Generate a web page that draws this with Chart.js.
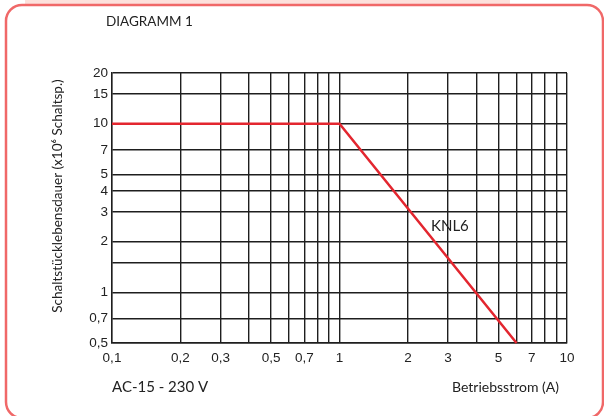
<!DOCTYPE html>
<html>
<head>
<meta charset="utf-8">
<script src="https://cdn.jsdelivr.net/npm/chart.js@4.4.1/dist/chart.umd.min.js"></script>
<style>
  html, body { margin: 0; padding: 0; background: #fff; }
  #wrap { width: 604px; height: 416px; }
</style>
</head>
<body>
<div id="wrap"><canvas id="c" width="604" height="416"></canvas></div>
<script>
// Kurve KNL6
const stromA = [0.1, 1, 6];
const lebensdauer = [10, 10, 0.5];

// Gitter / Beschriftung
const xTicks = [0.1, 0.2, 0.3, 0.4, 0.5, 0.6, 0.7, 0.8, 0.9, 1, 2, 3, 4, 5, 6, 7, 8, 9, 10];
const xLabels = [0.1, 0.2, 0.3, 0.5, 0.7, 1, 2, 3, 5, 7, 10];
const yTicks = [0.5, 0.7, 1, 1.5, 2, 3, 4, 5, 7, 10, 15, 20];
const yLabels = [0.5, 0.7, 1, 2, 3, 4, 5, 7, 10, 15, 20];

const fmt = v => String(v).replace('.', ',');
const has = (arr, v) => arr.some(a => Math.abs(a - v) < 1e-9);

const rahmen = {
    id: 'rahmen',
    beforeDraw(chart) {
        const ctx = chart.ctx;
        ctx.save();
        ctx.fillStyle = '#fff';
        ctx.fillRect(0, 0, 604, 416);
        ctx.fillStyle = '#fde1dc';
        ctx.fillRect(25, 0, 485, 5);
        ctx.strokeStyle = '#f06868';
        ctx.lineWidth = 2.5;
        ctx.beginPath();
        ctx.roundRect(6, 5, 597, 413, 16);
        ctx.stroke();
        ctx.restore();
    },
    afterDraw(chart) {
        const ctx = chart.ctx;
        ctx.save();
        ctx.fillStyle = '#222';
        ctx.textBaseline = 'middle';
        ctx.textAlign = 'left';
        ctx.font = '13.5px Lato';
        ctx.fillText('DIAGRAMM 1', 106, 22);
        ctx.font = '15px Lato';
        ctx.fillText('AC-15 - 230 V', 112, 387);
        ctx.textAlign = 'right';
        ctx.font = '14px Lato';
        ctx.fillText('Betriebsstrom (A)', 559, 387);
        ctx.textAlign = 'left';
        ctx.font = '15px Lato';
        ctx.fillText('KNL6', 431, 226);
        // y-Achsentitel
        ctx.translate(58, 196);
        ctx.rotate(-Math.PI / 2);
        ctx.textAlign = 'center';
        ctx.font = '13.5px Lato';
        ctx.fillText('Schaltstücklebensdauer (x10\u2076 Schaltsp.)', 0, 0);
        ctx.restore();
    }
};

new Chart(document.getElementById('c'), {
    type: 'line',
    data: {
        datasets: [{
            label: 'KNL6',
            data: stromA.map((x, i) => ({x: x, y: lebensdauer[i]})),
            borderColor: '#e3262f',
            borderWidth: 2.5,
            pointRadius: 0,
            tension: 0,
            clip: false
        }]
    },
    options: {
        responsive: false,
        animation: false,
        layout: {padding: {top: 73, right: 37, left: 0, bottom: 0}},
        plugins: {legend: {display: false}, tooltip: {enabled: false}},
        scales: {
            x: {
                type: 'logarithmic',
                min: 0.1, max: 10,
                afterBuildTicks: s => { s.ticks = xTicks.map(v => ({value: v})); },
                afterFit: s => { s.height = 73; },
                ticks: {
                    autoSkip: false, maxRotation: 0, padding: 7,
                    color: '#222', font: {family: 'Liberation Sans', size: 13.5},
                    callback: v => has(xLabels, v) ? fmt(v) : ''
                },
                grid: {color: '#1e1e1e', lineWidth: 1.4, drawTicks: false},
                border: {color: '#1e1e1e', width: 1.4}
            },
            y: {
                type: 'logarithmic',
                min: 0.5, max: 20,
                afterBuildTicks: s => { s.ticks = yTicks.map(v => ({value: v})); },
                afterFit: s => { s.width = 112; },
                ticks: {
                    autoSkip: false, padding: 4,
                    color: '#222', font: {family: 'Liberation Sans', size: 13.5},
                    callback: v => has(yLabels, v) ? fmt(v) : ''
                },
                grid: {color: '#1e1e1e', lineWidth: 1.4, drawTicks: false},
                border: {color: '#1e1e1e', width: 1.4}
            }
        }
    },
    plugins: [rahmen]
});
</script>
</body>
</html>
